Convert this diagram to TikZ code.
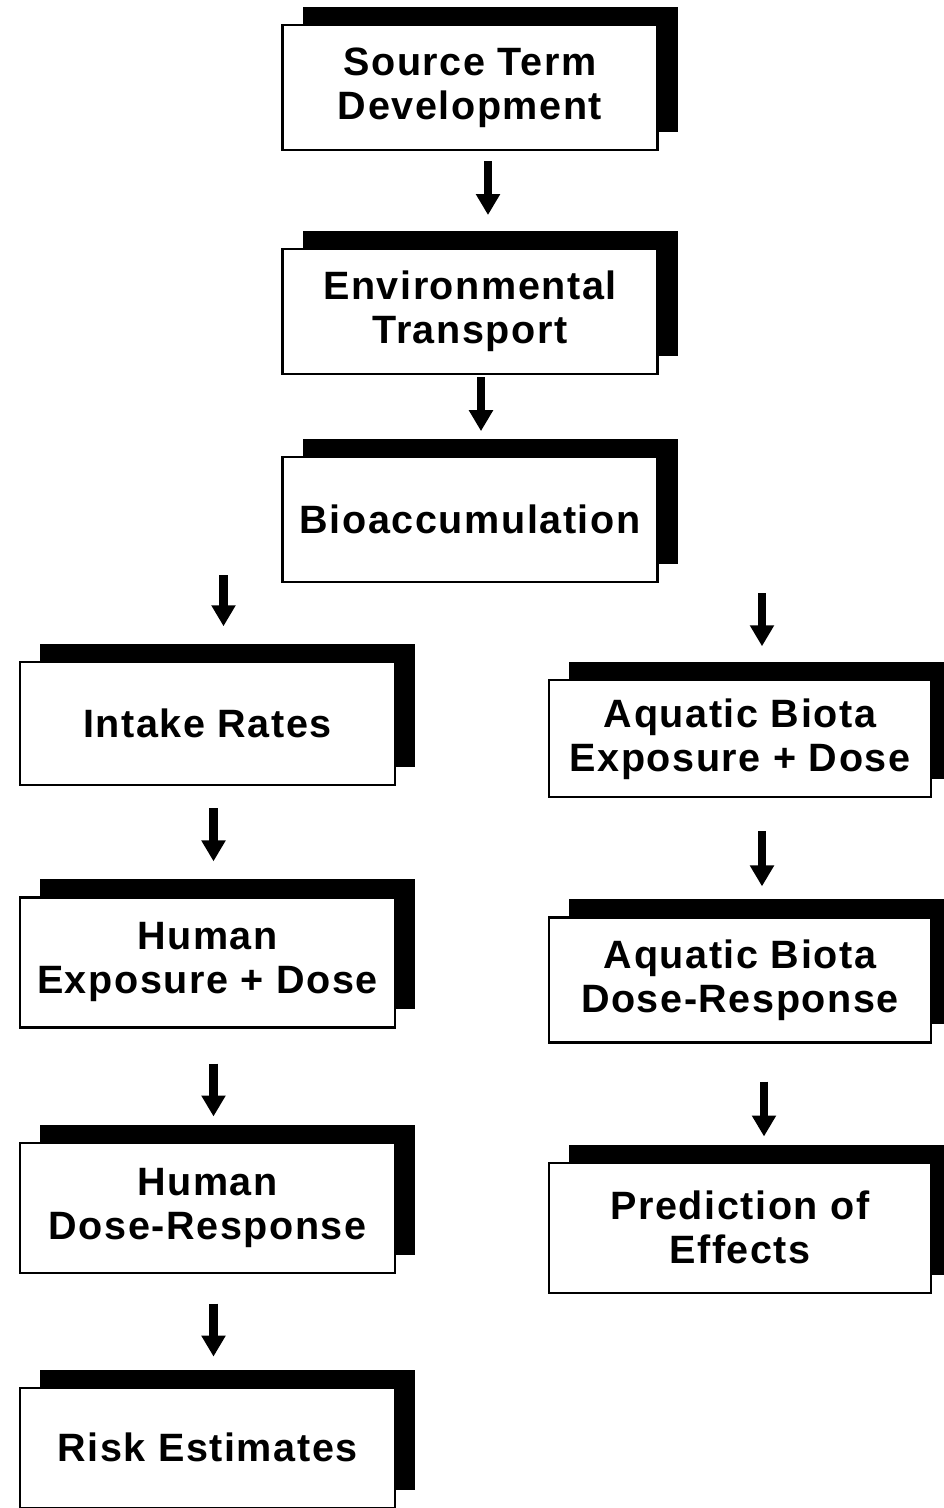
\documentclass[tikz,border=0pt]{standalone}
\usepackage{fontspec}
\newfontfamily\boxfont[LetterSpace=4]{Liberation Sans}
\usepackage{tikz}
\usetikzlibrary{positioning, arrows.meta, shadows}
\tikzset{
    box/.style={draw, line width=1.2pt, rectangle, fill=white, minimum width=7.5cm, minimum height=2.5cm, align=center,
        font=\boxfont\bfseries\fontsize{22.5}{25}\selectfont,
        general shadow={fill=black, shadow xshift=0.4cm, shadow yshift=0.36cm}},
    arr/.style={-{Triangle[width=0.46cm, length=0.42cm]}, line width=0.17cm},
}
\begin{document}
\begin{tikzpicture}
        \useasboundingbox (0,0) rectangle (18.88,-30.16);
        \node[box] (src) at (9.4,-1.75) {Source Term\\Development};
        \node[box, below=1.94cm of src] (env) {Environmental\\Transport};
        \node[box, below=1.62cm of env] (bio) {Bioaccumulation};
        \node[box, minimum height=2.46cm, below=1.56cm of bio, xshift=-5.25cm] (intake) {Intake Rates};
        \node[box, minimum height=2.6cm, below=2.2cm of intake] (humexp) {Human\\Exposure + Dose};
        \node[box, minimum height=2.6cm, below=2.26cm of humexp] (humdr) {Human\\Dose-Response};
        \node[box, minimum height=2.4cm, below=2.26cm of humdr] (risk) {Risk Estimates};
        \node[box, minimum width=7.65cm, minimum height=2.34cm, below=1.92cm of bio, xshift=5.4cm] (aqexp) {Aquatic Biota\\Exposure + Dose};
        \node[box, minimum width=7.65cm, below=2.36cm of aqexp] (aqdr) {Aquatic Biota\\Dose-Response};
        \node[box, minimum width=7.65cm, minimum height=2.6cm, below=2.36cm of aqdr] (pred) {Prediction of\\Effects};
        \draw[arr, shorten <=0.2cm, shorten >=0.66cm] ([xshift=0.36cm]src.south) -- ([xshift=0.36cm]env.north);
        \draw[arr, shorten <=0.04cm, shorten >=0.5cm] ([xshift=0.22cm]env.south) -- ([xshift=0.22cm]bio.north);
        \draw[arr, shorten <=-0.16cm, shorten >=0.7cm] ([xshift=0.32cm]intake.north |- bio.south) -- ([xshift=0.32cm]intake.north);
        \draw[arr, shorten <=0.2cm, shorten >=0.66cm] ([xshift=0.44cm]aqexp.north |- bio.south) -- ([xshift=0.44cm]aqexp.north);
        \draw[arr, shorten <=0.44cm, shorten >=0.7cm] ([xshift=0.12cm]intake.south) -- ([xshift=0.12cm]humexp.north);
        \draw[arr, shorten <=0.7cm, shorten >=0.5cm] ([xshift=0.12cm]humexp.south) -- ([xshift=0.12cm]humdr.north);
        \draw[arr, shorten <=0.6cm, shorten >=0.6cm] ([xshift=0.12cm]humdr.south) -- ([xshift=0.12cm]risk.north);
        \draw[arr, shorten <=0.66cm, shorten >=0.6cm] ([xshift=0.44cm]aqexp.south) -- ([xshift=0.44cm]aqdr.north);
        \draw[arr, shorten <=0.76cm, shorten >=0.5cm] ([xshift=0.48cm]aqdr.south) -- ([xshift=0.48cm]pred.north);
\end{tikzpicture}
\end{document}
